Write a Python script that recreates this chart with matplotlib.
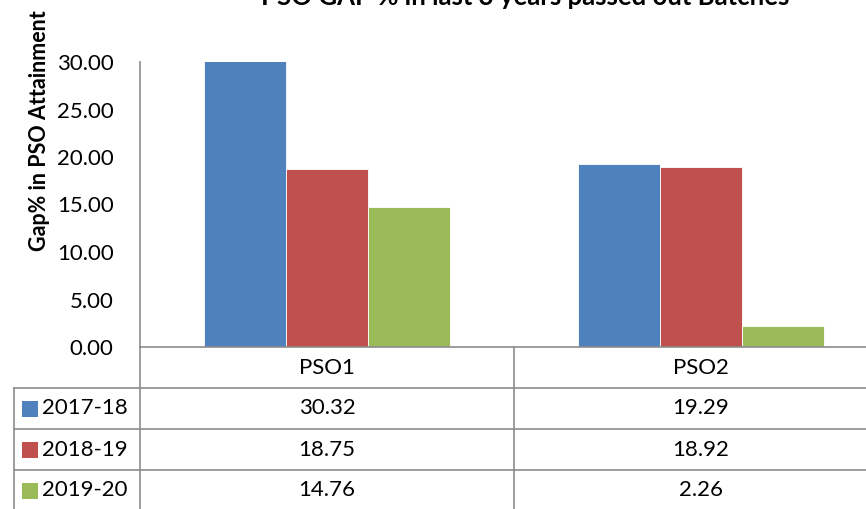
import matplotlib
matplotlib.use("Agg")
import matplotlib.pyplot as plt
import numpy as np

plt.rcParams["font.family"] = ["Lato", "DejaVu Sans"]

# ── Data ──────────────────────────────────────────────────────────────────────
categories = ["PSO1", "PSO2"]
batches = ["2017-18", "2018-19", "2019-20"]
gap_2017_18 = [30.32, 19.29]
gap_2018_19 = [18.75, 18.92]
gap_2019_20 = [14.76, 2.26]
series = [gap_2017_18, gap_2018_19, gap_2019_20]
colors = ["#4F81BD", "#C0504D", "#9BBB59"]
yticks = [0, 5, 10, 15, 20, 25, 30]

W, H = 866, 509
GRID = "#8C8C8C"
FS = 16

fig = plt.figure(figsize=(W / 100, H / 100), dpi=100)

# main plot area (right edge runs past the canvas, as in the cropped reference)
ax_l, ax_r, ax_t, ax_b = 140, 888, 62, 347
ax = fig.add_axes([ax_l / W, 1 - ax_b / H, (ax_r - ax_l) / W, (ax_b - ax_t) / H])
x = np.arange(len(categories))
bw = 0.22
for i, (vals, c) in enumerate(zip(series, colors)):
    ax.bar(x + (i - 1) * bw, vals, width=bw, color=c, edgecolor="white", linewidth=0.6)

ax.set_xlim(-0.5, 1.5)
ax.set_ylim(0, 30)
ax.set_yticks(yticks)
ax.set_yticklabels([f"{v:.2f}" for v in yticks], fontsize=FS)
ax.tick_params(axis="y", length=0, pad=19)
ax.set_xticks([])
for s in ["top", "right"]:
    ax.spines[s].set_visible(False)
ax.spines["left"].set_color(GRID)
ax.spines["bottom"].set_color(GRID)
ax.spines["left"].set_linewidth(1.2)
ax.spines["bottom"].set_linewidth(1.2)

fig.text(40 / W, 1 - 131 / H, "Gap% in PSO Attainment", rotation=90,
         ha="center", va="center", fontsize=15.5, fontweight="bold")
fig.text(525 / W, 1 - 5 / H, "PSO GAP % in last 3 years passed out Batches",
         ha="center", va="baseline", fontsize=18.5, fontweight="bold")

# ── Data table under the axis ─────────────────────────────────────────────────
tb_l, tb_t, tb_b = 14, 347, 511
tab = fig.add_axes([tb_l / W, 1 - tb_b / H, (ax_r - tb_l) / W, (tb_b - tb_t) / H])
unit = (ax_r - ax_l) / 2
left = -0.5 - (ax_l - tb_l) / unit
tab.set_xlim(left, 1.5)
tab.set_ylim(len(batches) + 1, 0)
tab.axis("off")

lk = dict(color=GRID, linewidth=1.2, clip_on=False)
# horizontal rules
for r in range(1, len(batches) + 1):
    tab.plot([left, 1.5], [r, r], **lk)
# vertical rules
tab.plot([-0.5, -0.5], [0, len(batches) + 1], **lk)
tab.plot([0.5, 0.5], [0, len(batches) + 1], **lk)
tab.plot([left, left], [1, len(batches) + 1], **lk)

for j, cat in enumerate(categories):
    tab.text(x[j], 0.5, cat, ha="center", va="center", fontsize=FS)

for r, (name, vals, c) in enumerate(zip(batches, series, colors), start=1):
    tab.scatter([left + 16 / unit], [r + 0.5], marker="s", s=120, color=c,
                linewidths=0, clip_on=False)
    tab.text(left + 28 / unit, r + 0.5, name, ha="left", va="center", fontsize=FS)
    for j, v in enumerate(vals):
        tab.text(x[j], r + 0.5, f"{v:.2f}", ha="center", va="center", fontsize=FS)

fig.savefig("out.png", dpi=100)
